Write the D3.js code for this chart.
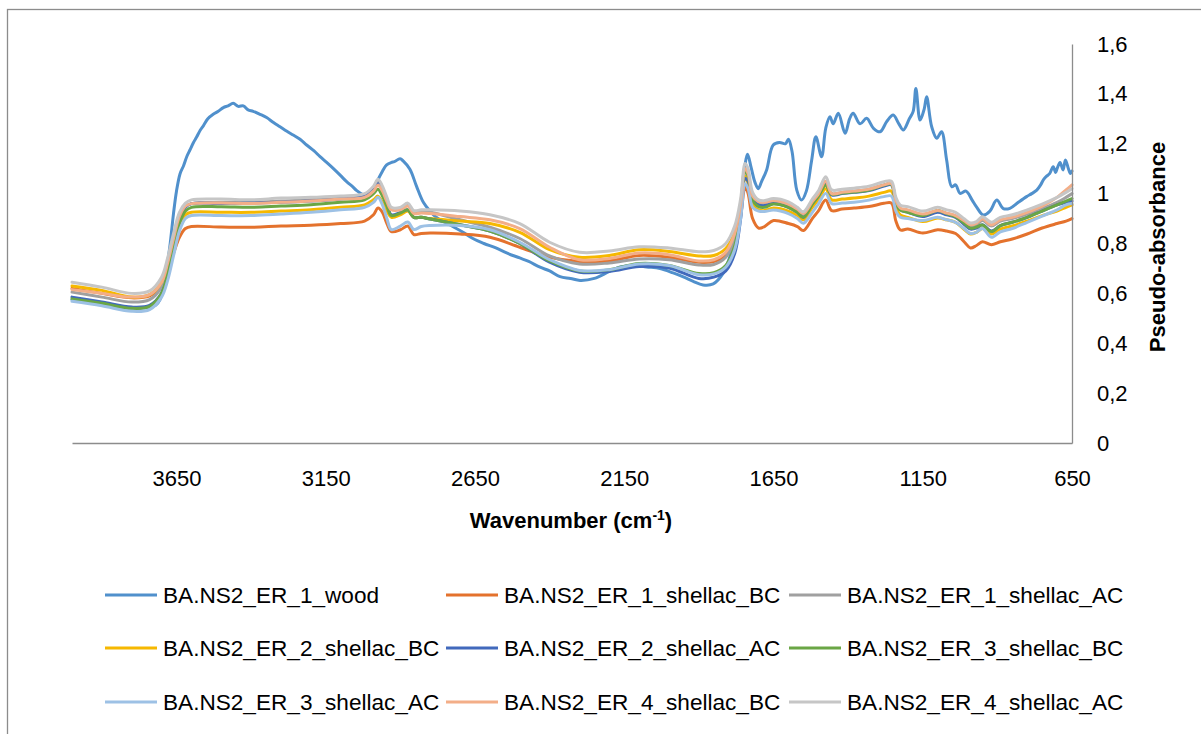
<!DOCTYPE html>
<html>
<head>
<meta charset="utf-8">
<script src="https://cdn.jsdelivr.net/npm/d3@7"></script>
<style>
  html, body { margin: 0; padding: 0; background: #fff; }
  svg { display: block; }
  text { font-family: "Liberation Sans", Arial, sans-serif; fill: #000; }
</style>
</head>
<body>
<svg id="chart" width="1201" height="734"></svg>
<script>
// ---------- DATA ----------
const xTickValues = [3650, 3150, 2650, 2150, 1650, 1150, 650];
const yTickValues = [0, 0.2, 0.4, 0.6, 0.8, 1.0, 1.2, 1.4, 1.6];

// wood spectrum (wavenumber, pseudo-absorbance)
const woodWn = [4000,3960,3920,3880,3840,3800,3770,3740,3720,3705,3695,3683,3672,3660,3650,3638,3627,3615,3605,3593,3582,3570,3560,3545,3527,3510,3493,3477,3460,3443,3426,3410,3393,3370,3348,3325,3303,3280,3259,3236,3214,3190,3169,3147,3125,3100,3080,3060,3046,3024,3005,2990,2979,2960,2946,2930,2920,2901,2890,2868,2846,2823,2801,2780,2750,2723,2690,2657,2620,2580,2544,2500,2470,2432,2400,2365,2330,2298,2250,2200,2164,2120,2075,2030,1986,1950,1919,1886,1852,1819,1796,1773,1756,1745,1737,1725,1712,1701,1690,1673,1651,1630,1610,1600,1588,1572,1556,1540,1522,1508,1489,1475,1461,1450,1433,1410,1395,1383,1360,1338,1315,1293,1270,1249,1230,1215,1195,1182,1173,1159,1145,1137,1120,1103,1087,1070,1053,1040,1025,1005,985,970,947,925,902,880,858,830,802,785,768,755,746,735,725,713,705,700,690,680,672,662,655,650];
const woodVal = [0.575,0.568,0.560,0.552,0.545,0.540,0.540,0.545,0.552,0.575,0.620,0.700,0.790,0.920,1.010,1.080,1.110,1.150,1.175,1.205,1.228,1.255,1.272,1.300,1.318,1.330,1.345,1.352,1.362,1.350,1.352,1.336,1.330,1.318,1.305,1.285,1.268,1.250,1.235,1.218,1.195,1.172,1.148,1.125,1.101,1.072,1.048,1.028,1.012,0.995,0.990,1.010,1.045,1.090,1.115,1.125,1.128,1.140,1.130,1.098,1.030,0.965,0.930,0.905,0.885,0.867,0.845,0.820,0.800,0.782,0.762,0.742,0.728,0.705,0.690,0.667,0.660,0.652,0.660,0.688,0.706,0.712,0.706,0.700,0.682,0.665,0.648,0.634,0.638,0.680,0.748,0.855,0.985,1.118,1.158,1.105,1.045,1.020,1.048,1.095,1.195,1.205,1.200,1.218,1.170,1.014,0.974,1.010,1.135,1.228,1.148,1.262,1.308,1.280,1.322,1.242,1.300,1.322,1.280,1.302,1.262,1.248,1.290,1.315,1.280,1.255,1.300,1.330,1.422,1.295,1.340,1.388,1.268,1.222,1.248,1.135,1.028,1.035,1.001,1.010,0.975,0.947,0.914,0.930,0.974,0.940,0.941,0.965,0.988,1.000,1.014,1.035,1.055,1.070,1.080,1.108,1.085,1.100,1.125,1.095,1.135,1.100,1.081,1.090];

// shared wavenumber grid for shellac series
const shellacWn = [4000,3900,3800,3740,3700,3680,3660,3640,3620,3600,3500,3400,3300,3200,3100,3020,2990,2975,2960,2945,2930,2900,2875,2855,2830,2800,2700,2600,2500,2400,2300,2200,2100,2000,1900,1850,1810,1780,1760,1745,1735,1720,1700,1680,1650,1600,1570,1550,1520,1500,1475,1455,1420,1380,1330,1280,1255,1240,1225,1200,1150,1100,1070,1040,1010,990,970,950,920,890,850,800,750,700,670,650];

const er1ShellacBC = [0.620,0.600,0.582,0.590,0.630,0.690,0.760,0.825,0.860,0.868,0.866,0.865,0.870,0.873,0.880,0.890,0.915,0.942,0.925,0.880,0.848,0.855,0.870,0.836,0.840,0.842,0.838,0.825,0.785,0.745,0.728,0.730,0.752,0.745,0.725,0.728,0.752,0.810,0.910,1.028,1.000,0.900,0.862,0.868,0.892,0.880,0.868,0.852,0.900,0.930,0.974,0.932,0.938,0.942,0.948,0.961,0.962,0.890,0.854,0.858,0.842,0.855,0.850,0.840,0.805,0.782,0.792,0.807,0.795,0.807,0.818,0.838,0.862,0.880,0.890,0.900];
const er1ShellacAC = [0.605,0.585,0.565,0.575,0.625,0.700,0.810,0.910,0.950,0.960,0.965,0.965,0.970,0.975,0.982,0.990,1.020,1.045,1.020,0.975,0.940,0.940,0.955,0.925,0.928,0.925,0.895,0.865,0.820,0.750,0.718,0.722,0.738,0.735,0.714,0.716,0.745,0.820,0.950,1.100,1.080,0.990,0.965,0.962,0.970,0.955,0.935,0.918,0.965,0.995,1.050,1.000,1.005,1.010,1.018,1.035,1.040,0.970,0.940,0.932,0.915,0.930,0.920,0.910,0.885,0.870,0.875,0.892,0.870,0.890,0.900,0.918,0.940,0.965,0.985,1.000];
const er2ShellacBC = [0.630,0.612,0.585,0.595,0.645,0.715,0.800,0.880,0.915,0.925,0.925,0.925,0.930,0.935,0.945,0.955,0.975,0.990,0.965,0.930,0.905,0.915,0.930,0.905,0.905,0.900,0.890,0.880,0.845,0.775,0.745,0.752,0.775,0.768,0.750,0.752,0.780,0.845,0.950,1.070,1.040,0.955,0.935,0.932,0.942,0.930,0.912,0.895,0.945,0.975,1.020,0.975,0.978,0.982,0.990,1.005,1.010,0.945,0.915,0.905,0.888,0.902,0.895,0.885,0.855,0.838,0.845,0.860,0.838,0.858,0.870,0.890,0.912,0.930,0.945,0.955];
const er2ShellacAC = [0.585,0.565,0.545,0.552,0.600,0.670,0.780,0.890,0.945,0.960,0.960,0.962,0.965,0.970,0.978,0.990,1.020,1.040,1.010,0.960,0.915,0.925,0.935,0.905,0.905,0.898,0.875,0.850,0.800,0.725,0.685,0.688,0.708,0.702,0.660,0.665,0.690,0.760,0.900,1.060,1.050,0.975,0.955,0.952,0.960,0.945,0.925,0.905,0.960,0.990,1.040,0.995,1.000,1.005,1.012,1.030,1.035,0.965,0.935,0.925,0.908,0.925,0.915,0.905,0.875,0.858,0.862,0.875,0.850,0.872,0.885,0.905,0.930,0.955,0.965,0.970];
const er3ShellacBC = [0.578,0.560,0.540,0.548,0.600,0.675,0.775,0.880,0.930,0.945,0.947,0.945,0.950,0.955,0.965,0.975,1.000,1.018,0.990,0.950,0.912,0.922,0.935,0.905,0.905,0.898,0.875,0.850,0.800,0.730,0.690,0.695,0.720,0.712,0.680,0.683,0.712,0.790,0.930,1.090,1.070,0.975,0.948,0.945,0.958,0.945,0.925,0.905,0.958,0.990,1.034,0.998,1.002,1.006,1.014,1.034,1.038,0.962,0.934,0.925,0.912,0.932,0.920,0.908,0.880,0.861,0.866,0.874,0.848,0.872,0.885,0.905,0.930,0.955,0.970,0.980];
const er3ShellacAC = [0.568,0.550,0.528,0.535,0.585,0.650,0.750,0.850,0.900,0.912,0.912,0.912,0.918,0.925,0.935,0.945,0.965,0.985,0.955,0.900,0.856,0.870,0.886,0.856,0.868,0.872,0.872,0.855,0.805,0.735,0.692,0.695,0.718,0.712,0.675,0.678,0.705,0.775,0.900,1.040,1.020,0.945,0.930,0.928,0.934,0.920,0.900,0.881,0.925,0.958,1.001,0.960,0.962,0.965,0.974,0.988,0.990,0.930,0.905,0.900,0.892,0.905,0.895,0.885,0.858,0.840,0.845,0.860,0.825,0.847,0.860,0.885,0.910,0.935,0.955,0.960];
const er4ShellacBC = [0.615,0.600,0.585,0.595,0.645,0.720,0.820,0.910,0.950,0.960,0.962,0.960,0.965,0.970,0.978,0.985,1.010,1.035,1.010,0.968,0.935,0.935,0.950,0.920,0.922,0.920,0.908,0.895,0.860,0.785,0.735,0.740,0.762,0.755,0.730,0.735,0.765,0.840,0.960,1.100,1.080,0.990,0.968,0.965,0.972,0.958,0.938,0.920,0.968,0.998,1.050,1.000,1.005,1.010,1.018,1.035,1.040,0.972,0.942,0.935,0.918,0.932,0.922,0.912,0.890,0.875,0.882,0.898,0.875,0.895,0.905,0.925,0.950,0.985,1.015,1.035];
const er4ShellacAC = [0.645,0.625,0.600,0.610,0.665,0.740,0.840,0.925,0.962,0.975,0.978,0.975,0.982,0.985,0.990,1.000,1.030,1.058,1.030,0.985,0.945,0.945,0.962,0.932,0.935,0.935,0.930,0.915,0.880,0.805,0.765,0.770,0.787,0.782,0.767,0.772,0.800,0.870,0.980,1.121,1.100,1.005,0.975,0.972,0.980,0.967,0.945,0.927,0.978,1.010,1.068,1.015,1.018,1.022,1.030,1.048,1.050,0.985,0.954,0.948,0.930,0.945,0.935,0.925,0.898,0.882,0.888,0.907,0.885,0.905,0.915,0.935,0.958,0.985,1.005,1.020];

const seriesNames = ["BA.NS2_ER_1_wood","BA.NS2_ER_1_shellac_BC","BA.NS2_ER_1_shellac_AC","BA.NS2_ER_2_shellac_BC","BA.NS2_ER_2_shellac_AC","BA.NS2_ER_3_shellac_BC","BA.NS2_ER_3_shellac_AC","BA.NS2_ER_4_shellac_BC","BA.NS2_ER_4_shellac_AC"];
const seriesColors = ["#5090cc","#e4722d","#a0a0a0","#f6b800","#4169bc","#6aa645","#9dc1e5","#f3ae88","#c6c6c6"];

// ---------- BUILD ----------
const seriesWn = [woodWn, shellacWn, shellacWn, shellacWn, shellacWn, shellacWn, shellacWn, shellacWn, shellacWn];
const seriesVals = [woodVal, er1ShellacBC, er1ShellacAC, er2ShellacBC, er2ShellacAC, er3ShellacBC, er3ShellacAC, er4ShellacBC, er4ShellacAC];
const series = seriesNames.map((name, i) => ({
  name, color: seriesColors[i],
  points: seriesWn[i].map((w, j) => ({ w, v: seriesVals[i][j] }))
}));

const svg = d3.select("#chart");
const plot = { left: 72, right: 1072, top: 44, bottom: 443 };

// outer chart border
svg.append("rect").attr("x", 7.5).attr("y", 9.5).attr("width", 1200).attr("height", 730)
  .attr("fill", "#fff").attr("stroke", "#8c8c8c").attr("stroke-width", 1.3);

const x = d3.scaleLinear().domain([4000, 650]).range([plot.left, plot.right]);
const y = d3.scaleLinear().domain([0, 1.6]).range([plot.bottom, plot.top]);

// series lines
const line = d3.line().x(d => x(d.w)).y(d => y(d.v)).curve(d3.curveCatmullRom.alpha(0.5));
svg.append("g").selectAll("path").data(series).join("path")
  .attr("d", d => line(d.points))
  .attr("fill", "none")
  .attr("stroke", d => d.color)
  .attr("stroke-width", 3)
  .attr("stroke-linejoin", "round")
  .attr("stroke-linecap", "round");

// x axis
const fmtComma = v => d3.format("")(+v.toFixed(1)).replace(".", ",");
const xAxis = d3.axisBottom(x).tickValues(xTickValues).tickSize(0).tickPadding(27).tickFormat(d3.format("d"));
const gx = svg.append("g").attr("transform", `translate(0,${plot.bottom})`).call(xAxis);
gx.select(".domain").attr("stroke", "#8c8c8c").attr("stroke-width", 1.3);
gx.selectAll(".tick text").style("font-size", "22px").style("font-family", '"Liberation Sans", Arial, sans-serif').attr("fill", "#000");

// y axis (right)
const yAxis = d3.axisRight(y).tickValues(yTickValues).tickSize(0).tickPadding(25).tickFormat(fmtComma);
const gy = svg.append("g").attr("transform", `translate(${plot.right},0)`).call(yAxis);
gy.select(".domain").attr("stroke", "#8c8c8c").attr("stroke-width", 1.3);
gy.selectAll(".tick text").style("font-size", "22px").style("font-family", '"Liberation Sans", Arial, sans-serif').attr("fill", "#000");

// axis titles
const xt = svg.append("text").attr("x", 571).attr("y", 528).attr("text-anchor", "middle")
  .style("font-size", "22px").style("font-weight", "bold");
xt.append("tspan").text("Wavenumber (cm");
xt.append("tspan").attr("dy", -8).style("font-size", "14px").text("-1");
xt.append("tspan").attr("dy", 8).text(")");

svg.append("text").attr("transform", "translate(1165,247) rotate(-90)").attr("text-anchor", "middle")
  .style("font-size", "22px").style("font-weight", "bold").text("Pseudo-absorbance");

// legend
const colX = [105, 446, 789];
const rowY = [595, 648, 702];
const lg = svg.append("g").selectAll("g").data(series).join("g")
  .attr("transform", (d, i) => `translate(${colX[i % 3]},${rowY[Math.floor(i / 3)]})`);
lg.append("line").attr("x1", 0).attr("x2", 52).attr("y1", 0).attr("y2", 0)
  .attr("stroke", d => d.color).attr("stroke-width", 3);
lg.append("text").attr("x", 58).attr("y", 0).attr("dy", "0.35em")
  .style("font-size", "22.6px").text(d => d.name);
</script>
</body>
</html>
